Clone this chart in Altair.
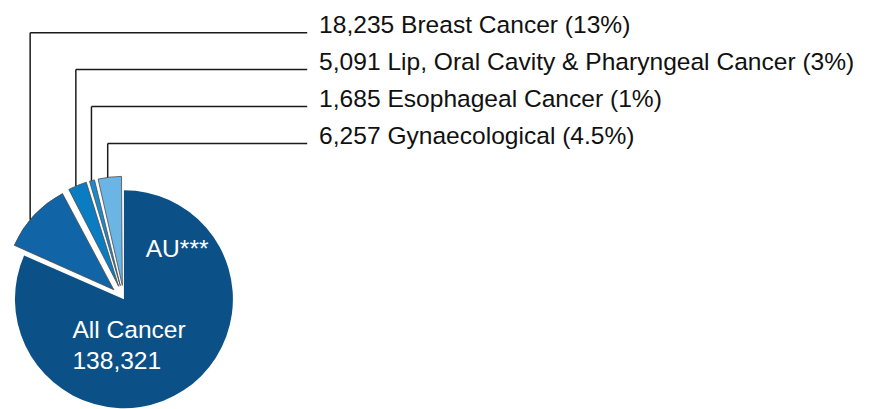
import altair as alt
import pandas as pd

# ---- data ----
categories = ["All Cancer", "Breast Cancer", "Lip, Oral Cavity & Pharyngeal Cancer",
              "Esophageal Cancer", "Gynaecological"]
values = [138321, 18235, 5091, 1685, 6257]
pct_labels = ["", "13%", "3%", "1%", "4.5%"]
main_label = "AU***"

# ---- layout constants (pixels, chart coordinates) ----
CX, CY, R = 117, 292, 110
EXPLODE = 14
ANCHOR_FRAC = 0.42
LABEL_X = 314
LINE_END = 302
LABEL_Y0, LABEL_DY = 23, 37.3
FONT = "Liberation Sans"
FS = 24.8

rows = []
for i, (c, v, p) in enumerate(zip(categories, values, pct_labels)):
    lab = f"{v:,} {c} ({p})" if p else ""
    rows.append({"idx": i, "cat": c, "value": v, "label": lab})
df = pd.DataFrame(rows)

colors = ["#0b5187", "#1165a6", "#0a7cc2", "#1a8bd0", "#6bb5e5"]

base = alt.Chart(df).transform_window(
    cum="sum(value)", frame=[None, 0], sort=[{"field": "idx"}]
).transform_joinaggregate(
    total="sum(value)"
).transform_calculate(
    t1="2*PI*datum.cum/datum.total",
    t0="2*PI*(datum.cum-datum.value)/datum.total",
).transform_calculate(
    mid="(datum.t0+datum.t1)/2",
    anc=f"datum.t0 + {ANCHOR_FRAC}*(datum.t1-datum.t0)",
    ex=f"datum.idx==0 ? 0 : {EXPLODE}",
).transform_calculate(
    cx=f"{CX} + datum.ex*sin(datum.mid)",
    cy=f"{CY} - datum.ex*cos(datum.mid)",
).transform_calculate(
    ax=f"datum.cx + {R}*sin(datum.anc)",
    ay=f"datum.cy - {R}*cos(datum.anc)",
    ly=f"{LABEL_Y0} + (datum.idx-1)*{LABEL_DY}",
    lx2=f"{LINE_END}",
)

color = alt.Color("cat:N", scale=alt.Scale(domain=categories, range=colors), legend=None)

main_arc = base.transform_filter("datum.idx==0").mark_arc(radius=R, stroke=None).encode(
    theta=alt.Theta("t0:Q", scale=None), theta2="t1:Q",
    x=alt.X("cx:Q", scale=None), y=alt.Y("cy:Q", scale=None),
    color=color,
)

small_arc = base.transform_filter("datum.idx>0").mark_arc(
    radius=R, stroke="#4a4a4a", strokeWidth=0.8, padAngle=0.015
).encode(
    theta=alt.Theta("t0:Q", scale=None), theta2="t1:Q",
    x=alt.X("cx:Q", scale=None), y=alt.Y("cy:Q", scale=None),
    color=color,
)

vlines = base.transform_filter("datum.idx>0").mark_rule(color="#1a1a1a", strokeWidth=1.5).encode(
    x=alt.X("ax:Q", scale=None), y=alt.Y("ay:Q", scale=None), y2="ly:Q",
)
hlines = base.transform_filter("datum.idx>0").mark_rule(color="#1a1a1a", strokeWidth=1.5).encode(
    x=alt.X("ax:Q", scale=None), x2="lx2:Q", y=alt.Y("ly:Q", scale=None),
)
labels = base.transform_filter("datum.idx>0").mark_text(
    align="left", baseline="alphabetic", font=FONT, fontSize=FS, color="#111111"
).encode(
    x=alt.value(LABEL_X), y=alt.Y("ly:Q", scale=None), text="label:N",
)

au_text = alt.Chart(pd.DataFrame({"t": [main_label]})).mark_text(
    align="left", baseline="alphabetic", font=FONT, fontSize=FS, color="white"
).encode(x=alt.value(139), y=alt.value(249), text="t:N")

main_text = alt.Chart(pd.DataFrame({"t": [categories[0], f"{values[0]:,}"], "k": [0, 1]})).mark_text(
    align="left", baseline="alphabetic", font=FONT, fontSize=FS, color="white"
).encode(
    x=alt.value(65),
    y=alt.Y("k:Q", scale=alt.Scale(domain=[0, 1], range=[331, 362]), axis=None),
    text="t:N",
)

chart = alt.layer(main_arc, small_arc, vlines, hlines, labels, au_text, main_text).properties(
    width=866, height=401, padding=0,
    autosize=alt.AutoSizeParams(type="none"),
).configure_view(stroke=None)

chart.save("out.html", embed_options={"renderer": "svg", "actions": False})
